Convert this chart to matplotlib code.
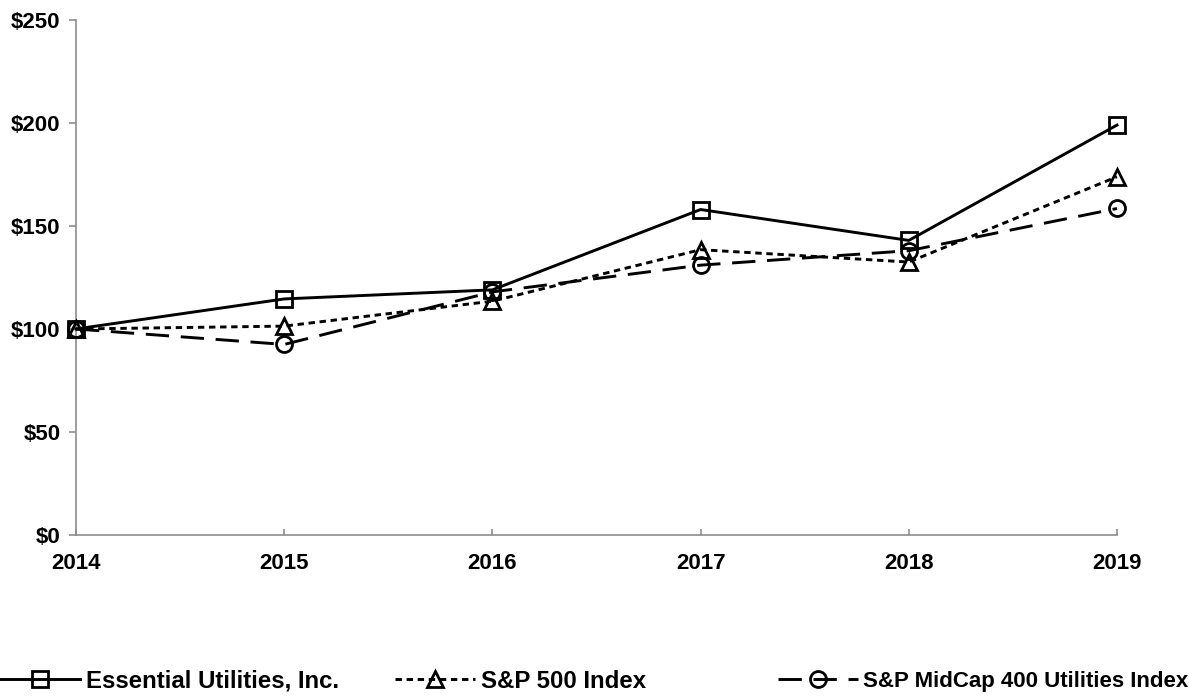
import matplotlib
matplotlib.use("Agg")
import matplotlib.pyplot as plt

plt.rcParams['font.family'] = ['Liberation Sans', 'DejaVu Sans']
plt.rcParams['font.weight'] = 'bold'

years = [2014, 2015, 2016, 2017, 2018, 2019]
essential = [100, 114.6, 119.0, 158.0, 143.0, 199.0]
sp500 = [100, 101.4, 113.5, 138.5, 132.5, 173.9]
midcap = [100, 92.5, 118.0, 131.0, 138.0, 158.5]
series_names = ["Essential Utilities, Inc.", "S&P 500 Index", "S&P MidCap 400 Utilities Index"]
yticks = [0, 50, 100, 150, 200, 250]
ytick_labels = ["$0", "$50", "$100", "$150", "$200", "$250"]

W, H = 1189, 697
fig = plt.figure(figsize=(W / 100, H / 100), dpi=100)
ax = fig.add_axes([76 / W, (H - 535) / H, (1117 - 76) / W, (535 - 20) / H])

lw = 2.1
h1, = ax.plot(years, essential, color='black', lw=lw, marker='s', ms=11.5,
              mfc='none', mec='black', mew=2.0, label=series_names[0], clip_on=False, zorder=3)
h2, = ax.plot(years, sp500, color='black', lw=lw, ls=(0, (2.2, 1.6)), marker='^', ms=11.5,
              mfc='none', mec='black', mew=2.0, label=series_names[1], clip_on=False, zorder=3)
h3, = ax.plot(years, midcap, color='black', lw=lw, ls=(0, (8, 4)), marker='o', ms=11.5,
              mfc='none', mec='black', mew=2.0, label=series_names[2], clip_on=False, zorder=3)

ax.set_xlim(2014, 2019)
ax.set_ylim(0, 250)
ax.set_xticks(years)
ax.set_xticklabels([str(y) for y in years], fontsize=16, fontweight='bold')
ax.set_yticks(yticks)
ax.set_yticklabels(ytick_labels, fontsize=16, fontweight='bold')
for s in ['top', 'right']:
    ax.spines[s].set_visible(False)
for s in ['left', 'bottom']:
    ax.spines[s].set_color('#8c8c8c')
    ax.spines[s].set_linewidth(1.2)
ax.tick_params(axis='y', direction='out', length=5, color='#8c8c8c', width=1.2, pad=6)
ax.tick_params(axis='x', direction='in', length=4, color='#8c8c8c', width=1.2, pad=13)

legend_specs = [(h1, 0, 17.3, 3.35), (h2, 395, 17.3, 3.35), (h3, 778, 16.0, 3.6)]
for h, x, fs, hl in legend_specs:
    fig.legend(handles=[h], loc='center left', bbox_to_anchor=(x / W, (H - 681) / H),
               frameon=False, handlelength=hl, handletextpad=0.22,
               borderpad=0, borderaxespad=0, prop={'weight': 'bold', 'size': fs})

fig.savefig("out.png", dpi=100)
